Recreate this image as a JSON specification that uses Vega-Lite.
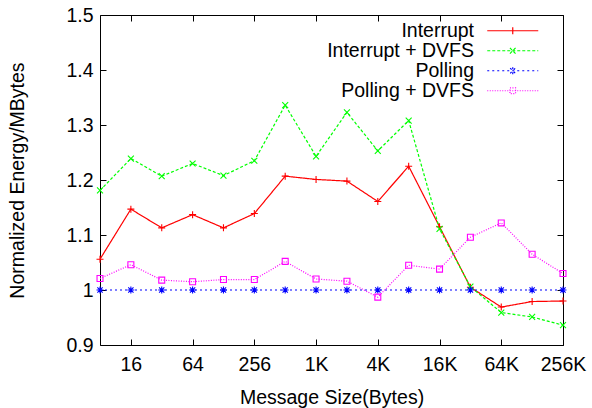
{
  "$schema": "https://vega.github.io/schema/vega-lite/v6.json",
  "autosize": {"type": "none"},
  "width": 463,
  "height": 330,
  "padding": {"left": 100, "top": 15, "right": 29, "bottom": 63},
  "background": "white",
  "config": {
    "font": "Liberation Sans",
    "view": {"stroke": "black", "strokeWidth": 1},
    "axis": {
      "labelFont": "Liberation Sans",
      "titleFont": "Liberation Sans",
      "labelFontSize": 19.5,
      "titleFontSize": 19.5,
      "titleFontWeight": "normal",
      "labelColor": "black",
      "titleColor": "black",
      "tickColor": "black",
      "tickSize": -6,
      "tickWidth": 1,
      "domain": false,
      "grid": false
    },
    "point": {"filled": false, "strokeWidth": 1.1, "size": 49, "opacity": 1, "clip": true}
  },
  "data": {
    "values": [
      {"size": 8, "series": "Interrupt", "value": 1.056},
      {"size": 16, "series": "Interrupt", "value": 1.147},
      {"size": 32, "series": "Interrupt", "value": 1.113},
      {"size": 64, "series": "Interrupt", "value": 1.137},
      {"size": 128, "series": "Interrupt", "value": 1.113},
      {"size": 256, "series": "Interrupt", "value": 1.139},
      {"size": 512, "series": "Interrupt", "value": 1.207},
      {"size": 1024, "series": "Interrupt", "value": 1.201},
      {"size": 2048, "series": "Interrupt", "value": 1.198},
      {"size": 4096, "series": "Interrupt", "value": 1.161},
      {"size": 8192, "series": "Interrupt", "value": 1.225},
      {"size": 16384, "series": "Interrupt", "value": 1.115},
      {"size": 32768, "series": "Interrupt", "value": 1.005},
      {"size": 65536, "series": "Interrupt", "value": 0.969},
      {"size": 131072, "series": "Interrupt", "value": 0.979},
      {"size": 262144, "series": "Interrupt", "value": 0.980},
      {"size": 8, "series": "Interrupt + DVFS", "value": 1.181},
      {"size": 16, "series": "Interrupt + DVFS", "value": 1.239},
      {"size": 32, "series": "Interrupt + DVFS", "value": 1.207},
      {"size": 64, "series": "Interrupt + DVFS", "value": 1.230},
      {"size": 128, "series": "Interrupt + DVFS", "value": 1.208},
      {"size": 256, "series": "Interrupt + DVFS", "value": 1.235},
      {"size": 512, "series": "Interrupt + DVFS", "value": 1.336},
      {"size": 1024, "series": "Interrupt + DVFS", "value": 1.243},
      {"size": 2048, "series": "Interrupt + DVFS", "value": 1.323},
      {"size": 4096, "series": "Interrupt + DVFS", "value": 1.253},
      {"size": 8192, "series": "Interrupt + DVFS", "value": 1.308},
      {"size": 16384, "series": "Interrupt + DVFS", "value": 1.111},
      {"size": 32768, "series": "Interrupt + DVFS", "value": 1.006},
      {"size": 65536, "series": "Interrupt + DVFS", "value": 0.959},
      {"size": 131072, "series": "Interrupt + DVFS", "value": 0.951},
      {"size": 262144, "series": "Interrupt + DVFS", "value": 0.936},
      {"size": 8, "series": "Polling", "value": 1.0},
      {"size": 16, "series": "Polling", "value": 1.0},
      {"size": 32, "series": "Polling", "value": 1.0},
      {"size": 64, "series": "Polling", "value": 1.0},
      {"size": 128, "series": "Polling", "value": 1.0},
      {"size": 256, "series": "Polling", "value": 1.0},
      {"size": 512, "series": "Polling", "value": 1.0},
      {"size": 1024, "series": "Polling", "value": 1.0},
      {"size": 2048, "series": "Polling", "value": 1.0},
      {"size": 4096, "series": "Polling", "value": 1.0},
      {"size": 8192, "series": "Polling", "value": 1.0},
      {"size": 16384, "series": "Polling", "value": 1.0},
      {"size": 32768, "series": "Polling", "value": 1.0},
      {"size": 65536, "series": "Polling", "value": 1.0},
      {"size": 131072, "series": "Polling", "value": 1.0},
      {"size": 262144, "series": "Polling", "value": 1.0},
      {"size": 8, "series": "Polling + DVFS", "value": 1.021},
      {"size": 16, "series": "Polling + DVFS", "value": 1.046},
      {"size": 32, "series": "Polling + DVFS", "value": 1.018},
      {"size": 64, "series": "Polling + DVFS", "value": 1.015},
      {"size": 128, "series": "Polling + DVFS", "value": 1.019},
      {"size": 256, "series": "Polling + DVFS", "value": 1.019},
      {"size": 512, "series": "Polling + DVFS", "value": 1.052},
      {"size": 1024, "series": "Polling + DVFS", "value": 1.020},
      {"size": 2048, "series": "Polling + DVFS", "value": 1.016},
      {"size": 4096, "series": "Polling + DVFS", "value": 0.987},
      {"size": 8192, "series": "Polling + DVFS", "value": 1.045},
      {"size": 16384, "series": "Polling + DVFS", "value": 1.038},
      {"size": 32768, "series": "Polling + DVFS", "value": 1.096},
      {"size": 65536, "series": "Polling + DVFS", "value": 1.122},
      {"size": 131072, "series": "Polling + DVFS", "value": 1.065},
      {"size": 262144, "series": "Polling + DVFS", "value": 1.030}
    ]
  },
  "resolve": {"axis": {"x": "independent", "y": "independent"}},
  "layer": [
    {
      "mark": {"type": "line", "strokeWidth": 1.2, "clip": true},
      "encoding": {
        "x": {
          "field": "size", "type": "quantitative",
          "scale": {"type": "log", "base": 2, "domain": [8, 262144], "nice": false},
          "axis": {
            "orient": "bottom",
            "values": [16, 64, 256, 1024, 4096, 16384, 65536, 262144],
            "labelExpr": "datum.value >= 1024 ? (datum.value / 1024) + 'K' : datum.value + ''",
            "labelPadding": 16,
            "labelFlush": false,
            "title": "Message Size(Bytes)",
            "titleBaseline": "middle",
            "titleY": 52
          }
        },
        "y": {
          "field": "value", "type": "quantitative",
          "scale": {"domain": [0.9, 1.5], "nice": false, "zero": false},
          "axis": {
            "orient": "left",
            "values": [0.9, 1.0, 1.1, 1.2, 1.3, 1.4, 1.5],
            "format": "~g",
            "labelPadding": 13,
            "labelFlush": false,
            "title": "Normalized Energy/MBytes",
            "titleBaseline": "middle",
            "titleAlign": "center",
            "titleX": -83,
            "titleY": 165
          }
        },
        "color": {
          "field": "series", "type": "nominal",
          "scale": {
            "domain": ["Interrupt", "Interrupt + DVFS", "Polling", "Polling + DVFS"],
            "range": ["#ff0000", "#00ff00", "#0000ff", "#ff00ff"]
          },
          "legend": {
            "title": null,
            "orient": "none",
            "legendX": 403,
            "legendY": 6,
            "padding": 0,
            "rowPadding": -1.2,
            "symbolSize": 289,
            "symbolStrokeWidth": 1.2,
            "labelFont": "Liberation Sans",
            "labelFontSize": 19.5,
            "labelColor": "black",
            "labelAlign": "right",
            "labelOffset": -48.5,
            "labelLimit": 300,
            "encode": {
              "symbols": {
                "update": {
                  "shape": {"signal": "datum.value === 'Interrupt' ? 'M-3,0H3M0,-0.41V0.41' : datum.value === 'Interrupt + DVFS' ? 'M-3,0H3M-0.33,-0.33L0.33,0.33M-0.33,0.33L0.33,-0.33' : datum.value === 'Polling' ? 'M-3,0H3M0,-0.41V0.41M-0.3,-0.3L0.3,0.3M-0.3,0.3L0.3,-0.3' : 'M-3,0H3M-0.33,-0.33H0.33V0.33H-0.33Z'"},
                  "strokeDash": {"signal": "datum.value === 'Interrupt' ? [1, 0] : datum.value === 'Interrupt + DVFS' ? [3, 2] : datum.value === 'Polling' ? [2, 3] : [1, 1.5]"},
                  "stroke": {"scale": "color", "field": "value"},
                  "fill": {"value": "transparent"},
                  "opacity": {"value": 1},
                  "strokeOpacity": {"value": 1}
                }
              }
            }
          }
        },
        "strokeDash": {
          "field": "series", "type": "nominal",
          "scale": {
            "domain": ["Interrupt", "Interrupt + DVFS", "Polling", "Polling + DVFS"],
            "range": [[1, 0], [3, 2], [2, 3], [1, 1.5]]
          },
          "legend": null
        }
      }
    },
    {
      "transform": [{"filter": "datum.series === 'Interrupt'"}],
      "mark": {"type": "point", "shape": "M-1,0H1M0,-1V1"},
      "encoding": {
        "x": {
          "field": "size", "type": "quantitative",
          "scale": {"type": "log", "base": 2, "domain": [8, 262144], "nice": false},
          "axis": {
            "orient": "top",
            "values": [16, 64, 256, 1024, 4096, 16384, 65536, 262144],
            "labels": false,
            "title": null
          }
        },
        "y": {
          "field": "value", "type": "quantitative",
          "scale": {"domain": [0.9, 1.5], "nice": false, "zero": false},
          "axis": {
            "orient": "right",
            "values": [0.9, 1.0, 1.1, 1.2, 1.3, 1.4, 1.5],
            "labels": false,
            "title": null
          }
        },
        "color": {"field": "series", "type": "nominal"}
      }
    },
    {
      "transform": [{"filter": "datum.series === 'Interrupt + DVFS'"}],
      "mark": {"type": "point", "shape": "M-0.85,-0.85L0.85,0.85M-0.85,0.85L0.85,-0.85"},
      "encoding": {
        "x": {"field": "size", "type": "quantitative", "axis": null},
        "y": {"field": "value", "type": "quantitative", "axis": null},
        "color": {"field": "series", "type": "nominal"}
      }
    },
    {
      "transform": [{"filter": "datum.series === 'Polling'"}],
      "mark": {"type": "point", "shape": "M-1,0H1M0,-1V1M-0.75,-0.75L0.75,0.75M-0.75,0.75L0.75,-0.75"},
      "encoding": {
        "x": {"field": "size", "type": "quantitative", "axis": null},
        "y": {"field": "value", "type": "quantitative", "axis": null},
        "color": {"field": "series", "type": "nominal"}
      }
    },
    {
      "transform": [{"filter": "datum.series === 'Polling + DVFS'"}],
      "mark": {"type": "point", "shape": "M-0.85,-0.85H0.85V0.85H-0.85Z"},
      "encoding": {
        "x": {"field": "size", "type": "quantitative", "axis": null},
        "y": {"field": "value", "type": "quantitative", "axis": null},
        "color": {"field": "series", "type": "nominal"}
      }
    }
  ]
}
